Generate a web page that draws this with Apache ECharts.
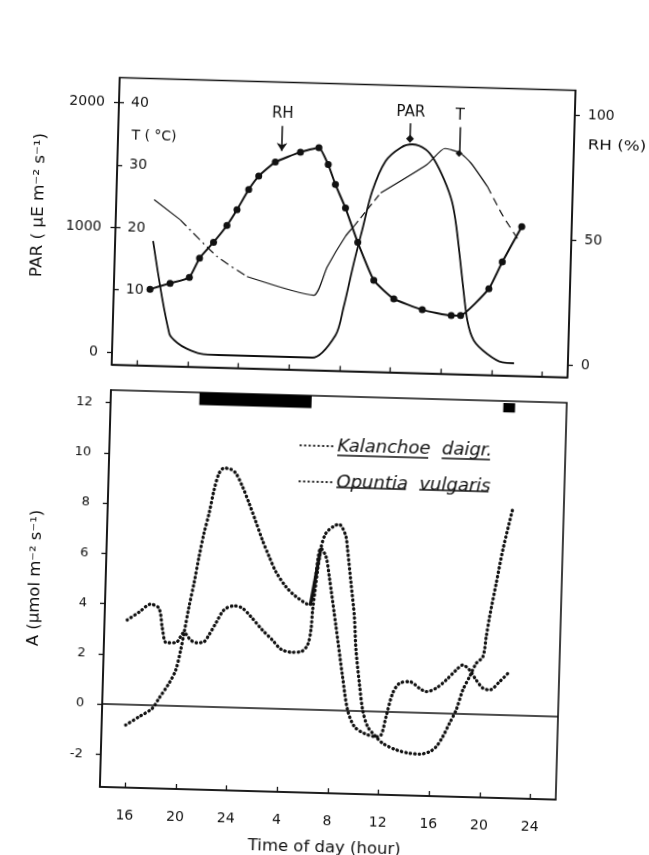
<!DOCTYPE html>
<html><head><meta charset="utf-8">
<script src="https://cdn.jsdelivr.net/npm/echarts@6/dist/echarts.min.js"></script>
<style>
html,body{margin:0;padding:0;background:#fff;overflow:hidden;}
#chart{width:649px;height:855px;transform:rotate(1.6deg);transform-origin:324.5px 427.5px;}
</style></head><body><div id="chart"></div>
<script>
// ---------- axis ticks ----------
const xTickHours = [16,20,24,28,32,36,40,44,48];
const xTickLabels = ['16','20','24','4','8','12','16','20','24'];
const parTicks = [0,1000,2000];
const tTicks = [10,20,30,40];
const rhTicks = [0,50,100];
const aTicks = [-2,0,2,4,6,8,10,12];
const aTickLabels = ['-2','0','2','4','6','8','10','12'];

// ---------- top panel: PAR, T, RH ----------
const parHours = [17.0,18.48,19.22,19.9,20.96,22.5,29.8,31.59,32.18,32.88,33.48,34.18,35.17,36.33,37.25,38.31,38.99,39.82,40.5,40.9,41.49,41.97,42.53,43.62,44.83,45.75];
const parValues = [898,161,82,43,7,0,0,183,413,765,1036,1346,1591,1702,1731,1694,1615,1457,1280,1080,655,333,173,69,5,0];

const tHours = [16.99,19.09,22.07,24.48,29.79,30.79,32.17,32.8,34.85,38.47,39.81,41.0,41.9,43.26,44.51,45.75];
const tValues = [24.6,21.5,15.8,12.7,10.0,14.6,19.6,21.2,26.7,31.5,34.1,33.5,31.9,28.2,23.7,20.0];
const tDashedRanges = [[19.09,24.48],[32.8,34.85],[43.26,45.75]];

const rhHours = [16.86,18.43,19.94,20.70,21.77,22.79,23.55,24.43,25.19,26.47,28.43,29.88,30.65,31.26,32.11,33.15,34.50,36.12,38.39,40.69,41.43,43.6,44.6,46.06];
const rhValues = [25.6,28.2,30.8,38.6,45.1,52.0,58.4,66.6,72.1,77.9,82.2,84.2,77.5,69.6,60.3,46.7,31.7,24.5,20.4,18.4,18.5,29.6,40.5,54.8];

// arrows: [hour, from, to] in units of each quantity
const rhArrow = [26.95, 92.5, 82.5];
const parArrow = [37.05, 1900, 1775];
const tArrow = [40.95, 37.6, 33.4];

// ---------- bottom panel: net CO2 uptake A ----------
const kalHours = [15.9,16.93,17.96,18.47,19.23,19.73,20.08,20.3,20.64,20.98,21.32,21.66,22.02,22.36,22.72,23.1,23.63,24.04,24.59,25.15,25.72,26.28,26.85,27.41,28.24,29.05,30.12,30.92,31.34,31.64,32.28,32.91,33.38,33.95,34.75,35.68,36.08,36.43,36.9,37.41,38.2,39.0,39.54,40.32,41.1,41.87,42.37,42.92,43.46,44.01,44.54,45.31,46.08];
const kalValues = [-0.81,-0.47,-0.12,0.29,0.9,1.43,2.24,2.9,3.97,4.9,5.97,6.91,7.71,8.64,9.31,9.52,9.48,9.33,8.81,8.15,7.43,6.7,6.05,5.46,4.87,4.49,4.17,6.44,6.11,5.32,3.34,1.35,0.03,-0.62,-0.88,-1.0,-0.92,-0.19,0.75,1.15,1.23,0.98,0.85,1.0,1.34,1.75,1.95,1.76,1.37,1.05,0.99,1.33,1.74];

const opuHours = [15.79,16.7,17.6,18.27,18.58,18.92,19.67,20.3,20.84,21.3,21.9,22.28,22.79,23.41,24.2,24.85,25.54,26.48,27.3,27.98,28.78,29.57,30.08,30.31,30.4,30.92,31.28,31.92,32.32,32.59,32.87,33.03,33.37,33.71,33.91,34.25,34.57,35.0,35.68,36.22,37.3,38.36,39.15,39.93,40.45,40.95,41.45,41.95,42.43,42.93,43.43,43.94,44.16,44.38,44.83,45.28,45.98];
const opuValues = [3.37,3.69,4.02,3.87,3.08,2.51,2.52,2.93,2.64,2.54,2.59,2.87,3.34,3.88,4.05,3.97,3.64,3.12,2.73,2.38,2.27,2.3,2.58,3.18,3.97,6.44,7.04,7.34,7.41,7.26,6.93,6.4,5.08,3.75,2.43,1.11,0.05,-0.61,-1.0,-1.25,-1.5,-1.62,-1.64,-1.54,-1.33,-0.92,-0.38,0.16,0.96,1.49,2.03,2.3,3.1,3.9,5.24,6.58,8.24];

// overlap of both curves drawn as a solid stroke around 8 h
const overlapHours = [30.2,30.92];
const overlapValues = [4.15,6.44];

const darkStart = [21.0,45.0];
const darkEnd = [29.86,45.93];
const darkLow = [12.0,12.05];
const darkHigh = [12.5,12.42];

const seriesNames = ['Kalanchoe  daigr.','Opuntia  vulgaris'];

// ---------- build ----------
const INK = '#111';
const FONT = '"DejaVu Sans", sans-serif';
const zip = (h, v) => h.map((x, i) => [x, v[i]]);

function segRange(a, b) {
  const m = (a + b) / 2;
  return tDashedRanges.findIndex(r => m > r[0] && m < r[1]);
}
const tSolid = []; const tDashed = tDashedRanges.map(() => []);
let last = -1;
for (let i = 0; i < tHours.length - 1; i++) {
  const k = segRange(tHours[i], tHours[i+1]);
  if (k < 0) {
    if (last !== i) {
      if (tSolid.length) tSolid.push([(tHours[i] + tHours[last]) / 2, '-']);
      tSolid.push([tHours[i], tValues[i]]);
    }
    tSolid.push([tHours[i+1], tValues[i+1]]);
    last = i + 1;
  } else {
    const d = tDashed[k];
    if (!d.length) d.push([tHours[i], tValues[i]]);
    d.push([tHours[i+1], tValues[i+1]]);
  }
}
const dashStyles = [[9,4,2,4],[7,4],[8,5]];

const xTickFmt = v => { const i = xTickHours.indexOf(v); return i >= 0 ? xTickLabels[i] : ''; };
const aTickFmt = v => { const i = aTicks.indexOf(v); return i >= 0 ? aTickLabels[i] : ''; };
const plain = v => String(v);

function xAx(grid, showLabels) {
  return {
    type: 'value', gridIndex: grid, min: 14, max: 50,
    axisLine: { show: true, onZero: false, lineStyle: { color: INK, width: 1.6 } },
    axisTick: { show: true, inside: true, length: 5, customValues: xTickHours, lineStyle: { color: INK, width: 1.3 } },
    axisLabel: { show: showLabels, customValues: xTickHours, formatter: xTickFmt, margin: 21, color: INK, fontSize: 14, fontFamily: FONT },
    splitLine: { show: false }
  };
}
function yAx(o) {
  return Object.assign({
    type: 'value', splitLine: { show: false },
    axisLine: { show: true, onZero: false, lineStyle: { color: INK, width: 1.6 } }
  }, o);
}

const dotted = { color: INK, width: 3.3, type: [0.4, 4.1], cap: 'round' };

const option = {
  animation: false,
  backgroundColor: '#fff',
  textStyle: { fontFamily: FONT },
  grid: [
    { left: 110, right: 83, top: 83.5, height: 287, show: true, borderColor: INK, borderWidth: 1.6, backgroundColor: 'transparent' },
    { left: 110, right: 83, top: 396, height: 397, show: true, borderColor: INK, borderWidth: 1.6, backgroundColor: 'transparent' }
  ],
  xAxis: [xAx(0, false), xAx(1, true)],
  yAxis: [
    yAx({ gridIndex: 0, position: 'left', min: -100, max: 2200,
      axisTick: { show: true, length: 5, customValues: parTicks, lineStyle: { color: INK, width: 1.3 } },
      axisLabel: { customValues: parTicks, formatter: plain, margin: 14, color: INK, fontSize: 14, fontFamily: FONT } }),
    yAx({ gridIndex: 0, position: 'left', min: -2, max: 44, axisLine: { show: false },
      axisTick: { show: true, inside: true, length: 5, customValues: tTicks, lineStyle: { color: INK, width: 1.3 } },
      axisLabel: { inside: true, customValues: tTicks, formatter: plain, margin: 12, color: INK, fontSize: 14, fontFamily: FONT } }),
    yAx({ gridIndex: 0, position: 'right', min: -5, max: 110,
      axisTick: { show: true, length: 5, customValues: rhTicks, lineStyle: { color: INK, width: 1.3 } },
      axisLabel: { customValues: rhTicks, formatter: plain, margin: 13, color: INK, fontSize: 14, fontFamily: FONT } }),
    yAx({ gridIndex: 1, position: 'left', min: -3.3, max: 12.5,
      axisTick: { show: true, length: 5, customValues: aTicks, lineStyle: { color: INK, width: 1.3 } },
      axisLabel: { customValues: aTicks, formatter: aTickFmt, margin: 18, color: INK, fontSize: 13, fontFamily: FONT } })
  ],
  legend: {
    left: 300, top: 437, orient: 'vertical', padding: 0, itemGap: 18,
    itemWidth: 32, itemHeight: 14, selectedMode: false,
    itemStyle: { opacity: 0 },
    textStyle: { fontSize: 18, fontStyle: 'italic', fontFamily: FONT, color: INK },
    data: seriesNames
  },
  series: [
    { name: 'PAR', type: 'line', xAxisIndex: 0, yAxisIndex: 0, data: zip(parHours, parValues),
      symbol: 'none', smooth: 0.3, lineStyle: { color: INK, width: 1.8 },
      markLine: { silent: true, symbol: ['none', 'diamond'], symbolSize: 8,
        lineStyle: { color: INK, width: 1.5, type: 'solid' },
        label: { show: true, position: 'start', formatter: 'PAR', distance: 3, color: INK, fontSize: 15, fontFamily: FONT },
        data: [[{ coord: [parArrow[0], parArrow[1]] }, { coord: [parArrow[0], parArrow[2]] }]] } },
    { name: 'T', type: 'line', xAxisIndex: 0, yAxisIndex: 1, data: tSolid,
      symbol: 'none', smooth: 0.2, connectNulls: false, lineStyle: { color: INK, width: 1.2 },
      markLine: { silent: true, symbol: ['none', 'diamond'], symbolSize: 7,
        lineStyle: { color: INK, width: 1.5, type: 'solid' },
        label: { show: true, position: 'start', formatter: 'T', distance: 4, color: INK, fontSize: 15, fontFamily: FONT },
        data: [[{ coord: [tArrow[0], tArrow[1]] }, { coord: [tArrow[0], tArrow[2]] }]] } },
    ...tDashed.map((d, k) => ({ name: 'T dashed ' + k, type: 'line', xAxisIndex: 0, yAxisIndex: 1, data: d,
      symbol: 'none', smooth: 0.2, lineStyle: { color: INK, width: 1.2, type: dashStyles[k] } })),
    { name: 'RH', type: 'line', xAxisIndex: 0, yAxisIndex: 2, data: zip(rhHours, rhValues),
      symbol: 'circle', symbolSize: 7, smooth: 0.15, itemStyle: { color: INK }, lineStyle: { color: INK, width: 2 },
      markLine: { silent: true, symbol: ['none', 'arrow'], symbolSize: 8,
        lineStyle: { color: INK, width: 1.5, type: 'solid' },
        label: { show: true, position: 'start', formatter: 'RH', distance: 5, color: INK, fontSize: 15, fontFamily: FONT },
        data: [[{ coord: [rhArrow[0], rhArrow[1]] }, { coord: [rhArrow[0], rhArrow[2]] }]] } },
    { name: seriesNames[0], type: 'line', xAxisIndex: 1, yAxisIndex: 3, data: zip(kalHours, kalValues),
      symbol: 'none', smooth: 0.3, lineStyle: dotted, itemStyle: { color: INK },
      markLine: { silent: true, symbol: 'none', label: { show: false },
        lineStyle: { color: INK, width: 1.5, type: 'solid' }, data: [{ yAxis: 0 }] } },
    { name: seriesNames[1], type: 'line', xAxisIndex: 1, yAxisIndex: 3, data: zip(opuHours, opuValues),
      symbol: 'none', smooth: 0.3, lineStyle: dotted, itemStyle: { color: INK },
      markArea: { silent: true, itemStyle: { color: '#000' },
        data: darkStart.map((s, i) => [{ coord: [s, darkLow[i]] }, { coord: [darkEnd[i], darkHigh[i]] }]) } },
    { name: 'overlap', type: 'line', xAxisIndex: 1, yAxisIndex: 3, data: zip(overlapHours, overlapValues),
      symbol: 'none', lineStyle: { color: INK, width: 3.2 } }
  ],
  graphic: []
};

// axis titles and unit labels
function txt(text, x, y, size, rot, sx) {
  return { type: 'text', x: x, y: y, rotation: rot || 0, scaleX: sx || 1, silent: true,
    style: { text: text, font: size + 'px ' + FONT, fill: INK, align: 'center', verticalAlign: 'middle' } };
}
option.graphic.push(txt('PAR ( \u00b5E m\u207b\u00b2 s\u207b\u00b9)', 33, 213, 15, Math.PI / 2, 1.12));
option.graphic.push(txt('T ( \u00b0C)', 146, 141, 14, 0, 1));
option.graphic.push(txt('RH (%)', 609, 138, 14, 0, 1.2));
option.graphic.push(txt('A (\u00b5mol m\u207b\u00b2 s\u207b\u00b9)', 40, 586, 15, Math.PI / 2, 1.1));
option.graphic.push(txt('Time of day (hour)', 336, 848, 15, 0, 1.1));

// underlines under legend words
const cv = document.createElement('canvas').getContext('2d');
cv.font = 'italic 18px ' + FONT;
const textX0 = 300 + 32 + 5;
const rowY = [437 + 7, 437 + 7 + 14 + 18];
seriesNames.forEach((name, r) => {
  const words = name.split(/\s+/);
  const gapW = cv.measureText(name.slice(0, name.length - words[1].length)).width;
  [[0, cv.measureText(words[0]).width], [gapW, gapW + cv.measureText(words[1]).width]].forEach(seg => {
    option.graphic.push({ type: 'line', silent: true,
      shape: { x1: textX0 + seg[0] + 1, y1: rowY[r] + 11, x2: textX0 + seg[1] - 1, y2: rowY[r] + 11 },
      style: { stroke: INK, lineWidth: 1.4 } });
  });
});

const chart = echarts.init(document.getElementById('chart'), null, { renderer: 'canvas' });
chart.setOption(option);
</script></body></html>
